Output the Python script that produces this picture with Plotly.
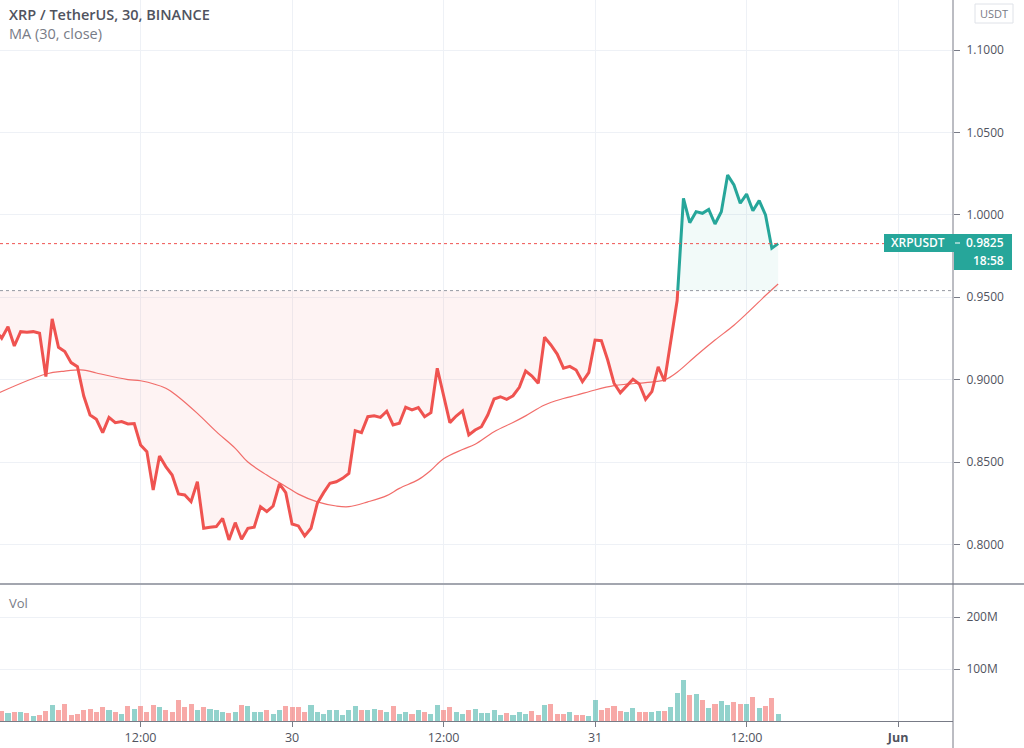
import numpy as np
import pandas as pd
import plotly.graph_objects as go

# ---------------- data ----------------
bar_start = "2021-05-29 00:30"   # 30-minute bars
close = [
    0.9300, 0.9251, 0.9321, 0.9204, 0.9291, 0.9288, 0.9291, 0.9281, 0.9018, 0.9368,
    0.9196, 0.9170, 0.9103, 0.9078, 0.8900, 0.8785, 0.8759, 0.8678, 0.8771, 0.8739,
    0.8745, 0.8731, 0.8733, 0.8603, 0.8563, 0.8330, 0.8536, 0.8472, 0.8421, 0.8306,
    0.8300, 0.8259, 0.8380, 0.8098, 0.8104, 0.8108, 0.8158, 0.8027, 0.8132, 0.8031,
    0.8098, 0.8104, 0.8229, 0.8199, 0.8233, 0.8367, 0.8314, 0.8124, 0.8112, 0.8051,
    0.8098, 0.8249, 0.8314, 0.8371, 0.8380, 0.8401, 0.8431, 0.8690, 0.8678, 0.8775,
    0.8781, 0.8771, 0.8808, 0.8725, 0.8735, 0.8832, 0.8816, 0.8830, 0.8775, 0.8799,
    0.9069, 0.8900, 0.8739, 0.8779, 0.8810, 0.8664, 0.8694, 0.8714, 0.8785, 0.8882,
    0.8896, 0.8880, 0.8902, 0.8953, 0.9052, 0.9022, 0.8978, 0.9257, 0.9210, 0.9155,
    0.9069, 0.9080, 0.9058, 0.8987, 0.9042, 0.9240, 0.9236, 0.9119, 0.8978, 0.8920,
    0.8961, 0.9002, 0.8973, 0.8880, 0.8927, 0.9078, 0.8990, 0.9250, 0.9480, 1.0100,
    0.9952, 1.0019, 1.0009, 1.0033, 0.9944, 1.0019, 1.0241, 1.0181, 1.0070, 1.0126,
    1.0025, 1.0086, 0.9999, 0.9797, 0.9825,
]
volume_m = [
    18.0, 20.0, 15.4, 18.0, 16.7, 14.7, 10.3, 12.2, 18.6, 30.0,
    21.8, 33.0, 12.0, 14.0, 21.8, 23.7, 18.0, 26.0, 21.8, 18.0,
    14.0, 29.5, 24.0, 29.5, 18.0, 31.0, 26.0, 22.0, 18.0, 40.0,
    27.5, 32.0, 20.5, 27.5, 24.0, 22.0, 18.0, 16.0, 18.0, 30.0,
    28.0, 16.7, 18.0, 20.5, 14.0, 22.0, 28.0, 26.0, 26.0, 18.0,
    30.0, 18.0, 14.0, 20.5, 20.5, 12.0, 20.5, 28.0, 20.5, 20.5,
    24.0, 22.0, 18.0, 28.0, 14.0, 16.7, 14.0, 20.5, 16.7, 14.0,
    30.0, 20.5, 26.0, 18.0, 14.0, 20.5, 24.0, 16.0, 16.0, 22.0,
    12.0, 16.0, 12.2, 16.7, 14.1, 18.6, 12.2, 30.1, 32.0, 14.1,
    14.1, 16.7, 12.2, 12.2, 10.3, 39.7, 20.5, 24.4, 28.2, 18.6,
    16.7, 24.4, 16.7, 16.7, 16.7, 18.6, 18.6, 26.3, 53.2, 78.8,
    49.4, 51.3, 39.7, 24.4, 32.0, 37.8, 30.1, 35.9, 32.0, 32.0,
    45.5, 24.4, 28.2, 43.6, 14.1,
]
# MA(30, close) at selected bars (bar index, 0 = first bar)
ma_bar = [0, 8, 11, 14, 16, 21, 23, 27, 29, 32, 35, 38, 40, 43, 46, 48, 51, 54, 56,
          59, 62, 64, 67, 69, 71, 74, 76, 79, 82, 84, 87, 90, 92, 95, 98, 100, 103,
          106, 108, 111, 114, 117, 119, 122, 124]
ma_val = [0.8910, 0.9034, 0.9052, 0.9058, 0.9040, 0.9000, 0.8993, 0.8947, 0.8895,
          0.8795, 0.8684, 0.8583, 0.8500, 0.8421, 0.8352, 0.8305, 0.8258, 0.8233,
          0.8229, 0.8258, 0.8296, 0.8340, 0.8393, 0.8450, 0.8520, 0.8576, 0.8608,
          0.8684, 0.8740, 0.8780, 0.8846, 0.8885, 0.8905, 0.8937, 0.8963, 0.8972,
          0.8982, 0.8998, 0.9045, 0.9145, 0.9240, 0.9330, 0.9400, 0.9510, 0.9580]
baseline = 0.954
last_price = 0.9825
countdown = "18:58"
price_ticks = [0.80, 0.85, 0.90, 0.95, 1.00, 1.05, 1.10]
vol_ticks = [100e6, 200e6]
vol_tick_text = ["100M", "200M"]
time_ticks = ["2021-05-29 12:00", "2021-05-30 00:00", "2021-05-30 12:00",
              "2021-05-31 00:00", "2021-05-31 12:00", "2021-06-01 00:00"]
time_tick_text = ["12:00", "30", "12:00", "31", "12:00", "<b>Jun</b>"]

# ---------------- styling ----------------
UP = "#26a69a"
DOWN = "#ef5350"
GRID = "#eef1f6"
AXIS = "#787b86"
TXT = "#50535e"
FONT = "'Open Sans', Roboto, sans-serif"
W, H = 1024, 748
ML, MR, MT, MB = 0, 71, 0, 27
PW, PH = W - ML - MR, H - MT - MB   # plot area in px


def px_x(px):
    return px / PW


def px_y(py):
    return (PH - py) / PH


times = pd.date_range(bar_start, periods=len(close), freq="30min")

# baseline series: split at crossings of the baseline
pts_t, pts_y = [times[0]], [close[0]]
for i in range(1, len(close)):
    a, b = close[i - 1], close[i]
    if (a - baseline) * (b - baseline) < 0:
        f = (baseline - a) / (b - a)
        pts_t.append(times[i - 1] + (times[i] - times[i - 1]) * f)
        pts_y.append(baseline)
    pts_t.append(times[i])
    pts_y.append(b)
pts_t = pd.DatetimeIndex(pts_t)
pts_y = np.array(pts_y)
base_arr = np.full(len(pts_y), baseline)
red_line = [v if v <= baseline else None for v in pts_y]
green_line = [v if v >= baseline else None for v in pts_y]

fig = go.Figure()
# fills
fig.add_trace(go.Scatter(x=pts_t, y=base_arr, mode="lines", line=dict(width=0),
                         hoverinfo="skip", showlegend=False))
fig.add_trace(go.Scatter(x=pts_t, y=np.minimum(pts_y, baseline), mode="lines",
                         line=dict(width=0), fill="tonexty",
                         fillcolor="rgba(239,83,80,0.07)", hoverinfo="skip",
                         showlegend=False))
fig.add_trace(go.Scatter(x=pts_t, y=base_arr, mode="lines", line=dict(width=0),
                         hoverinfo="skip", showlegend=False))
fig.add_trace(go.Scatter(x=pts_t, y=np.maximum(pts_y, baseline), mode="lines",
                         line=dict(width=0), fill="tonexty",
                         fillcolor="rgba(38,166,154,0.06)", hoverinfo="skip",
                         showlegend=False))
# MA line
fig.add_trace(go.Scatter(x=times[ma_bar], y=ma_val, mode="lines",
                         line=dict(color="rgba(239,83,80,0.85)", width=1.2),
                         line_shape="spline", showlegend=False))
# price lines
fig.add_trace(go.Scatter(x=pts_t, y=red_line, mode="lines",
                         line=dict(color=DOWN, width=3), connectgaps=False,
                         showlegend=False))
fig.add_trace(go.Scatter(x=pts_t, y=green_line, mode="lines",
                         line=dict(color=UP, width=3), connectgaps=False,
                         showlegend=False))
# volume
vcolors = [("rgba(239,83,80,0.5)" if (i == 0 or close[i] < close[i - 1])
            else "rgba(38,166,154,0.5)") for i in range(len(close))]
fig.add_trace(go.Bar(x=times, y=np.array(volume_m) * 1e6, marker_color=vcolors,
                     marker_line_width=0, width=24 * 60 * 1000,
                     xaxis="x2", yaxis="y2", showlegend=False))

x_range = ["2021-05-29 00:52", "2021-06-01 04:21"]
tick_font = dict(family=FONT, size=12, color=TXT)
fig.update_layout(
    width=W, height=H,
    margin=dict(l=ML, r=MR, t=MT, b=MB),
    paper_bgcolor="white", plot_bgcolor="white",
    showlegend=False, bargap=0,
    xaxis=dict(domain=[0, 1], anchor="y", range=x_range, tickvals=time_ticks,
               showticklabels=False, showgrid=True, gridcolor=GRID, zeroline=False,
               matches="x2"),
    xaxis2=dict(domain=[0, 1], anchor="y2", range=x_range, tickvals=time_ticks,
                ticktext=time_tick_text, ticks="outside", ticklen=5, tickcolor=AXIS,
                showline=True, linecolor=AXIS, linewidth=1, showgrid=True,
                gridcolor=GRID, zeroline=False,
                tickfont=dict(family=FONT, size=12.5, color=TXT)),
    yaxis=dict(domain=[px_y(583), 1], anchor="x", side="right",
               range=[1.1 - 533 / 1648, 1.1 + 50 / 1648], tickvals=price_ticks,
               tickformat=".4f", ticks="outside", ticklen=6, tickcolor=AXIS,
               showgrid=True, gridcolor=GRID, zeroline=False, tickfont=tick_font,
               ticklabelstandoff=4),
    yaxis2=dict(domain=[0, px_y(585)], anchor="x2", side="right",
                range=[0, 136 / 52 * 100e6], tickvals=vol_ticks,
                ticktext=vol_tick_text, ticks="outside", ticklen=6, tickcolor=AXIS,
                showgrid=True, gridcolor=GRID, zeroline=False, tickfont=tick_font,
                ticklabelstandoff=4),
)

shapes = [
    # current price dotted line
    dict(type="line", xref="paper", yref="y", x0=0, x1=px_x(884), y0=last_price,
         y1=last_price, line=dict(color=DOWN, width=1, dash="dot")),
    # baseline dotted line
    dict(type="line", xref="paper", yref="y", x0=0, x1=1, y0=baseline,
         y1=baseline, line=dict(color="#9598a1", width=1, dash="dot")),
    # pane separator
    dict(type="line", xref="paper", yref="paper", x0=0, x1=W / PW, y0=px_y(584),
         y1=px_y(584), line=dict(color="#a3a6af", width=2)),
    # right price-scale border
    dict(type="line", xref="paper", yref="paper", x0=1, x1=1, y0=px_y(H), y1=1,
         line=dict(color=AXIS, width=1)),
    # price label boxes
    dict(type="rect", xref="paper", yref="paper", x0=px_x(884), x1=px_x(1012),
         y0=px_y(252), y1=px_y(234), fillcolor=UP, line=dict(width=0),
         layer="above"),
    dict(type="rect", xref="paper", yref="paper", x0=px_x(954), x1=px_x(1012),
         y0=px_y(270), y1=px_y(251), fillcolor=UP, line=dict(width=0),
         layer="above"),
    dict(type="line", xref="paper", yref="paper", x0=px_x(955), x1=px_x(960),
         y0=px_y(243), y1=px_y(243), line=dict(color="white", width=1),
         layer="above"),
    # USDT box
    dict(type="rect", xref="paper", yref="paper", x0=px_x(975), x1=px_x(1013),
         y0=px_y(23), y1=px_y(4), fillcolor="white",
         line=dict(color="#dfe2e8", width=1), layer="above"),
]
fig.update_layout(shapes=shapes)

ann = [
    dict(text="XRP / TetherUS, 30, BINANCE", x=px_x(7), y=px_y(15),
         font=dict(family=FONT, size=14.5, color=TXT, weight=600)),
    dict(text="MA (30, close)", x=px_x(7), y=px_y(34),
         font=dict(family=FONT, size=14.5, color="#787b86")),
    dict(text="Vol", x=px_x(7), y=px_y(603),
         font=dict(family=FONT, size=13, color="#787b86")),
    dict(text="XRPUSDT", x=px_x(889), y=px_y(243),
         font=dict(family=FONT, size=12, color="white", weight=600)),
    dict(text=f"{last_price:.4f}", x=px_x(964), y=px_y(243),
         font=dict(family=FONT, size=12, color="white", weight=600)),
    dict(text=countdown, x=px_x(971), y=px_y(261),
         font=dict(family=FONT, size=12, color="white", weight=600)),
    dict(text="USDT", x=px_x(994), y=px_y(13.5), xanchor="center",
         font=dict(family=FONT, size=11, color="#787b86")),
]
for a in ann:
    a.setdefault("xanchor", "left")
    a.update(xref="paper", yref="paper", yanchor="middle", showarrow=False)
fig.update_layout(annotations=ann)

fig.write_html("out.html")
